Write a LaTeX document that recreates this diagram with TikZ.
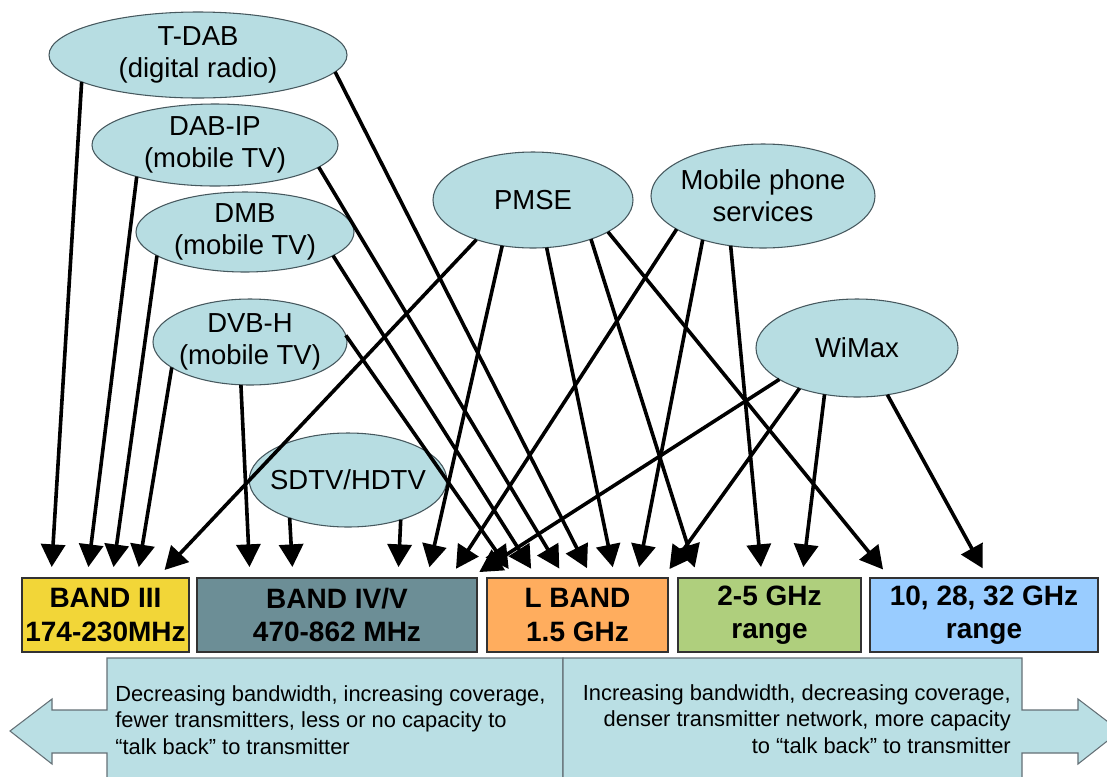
\documentclass[tikz,border=0pt]{standalone}
\usepackage{fontspec}
\setmainfont{Liberation Sans}
\usetikzlibrary{shapes.geometric,arrows.meta,calc}
\definecolor{ellfill}{RGB}{183,221,226}
\definecolor{ellline}{RGB}{70,88,94}
\definecolor{bandline}{RGB}{50,50,50}
\definecolor{bIIIc}{RGB}{242,214,56}
\definecolor{bIVc}{RGB}{108,142,150}
\definecolor{bLc}{RGB}{255,173,94}
\definecolor{bGc}{RGB}{175,207,125}
\definecolor{bHc}{RGB}{153,204,255}
\definecolor{boxfill}{RGB}{186,223,228}
\definecolor{boxline}{RGB}{100,112,118}
\begin{document}
\begin{tikzpicture}[x=0.75pt,y=-0.75pt,
  ell/.style={ellipse,draw=ellline,line width=0.8pt,fill=ellfill,inner sep=-6pt,outer sep=0pt,align=center,font=\fontsize{20.6pt}{24pt}\selectfont},
  band/.style={rectangle,draw=bandline,line width=0.8pt,inner sep=0pt,outer sep=0pt,minimum height=74*0.75pt,align=center,font=\bfseries\fontsize{21pt}{25pt}\selectfont},
  arr/.style={line width=2.7pt,-{Triangle[length=17pt,width=18pt]},shorten >=8.25pt},
  bigbox/.style={fill=boxfill,draw=boxline,line width=0.8pt},
  boxtext/.style={font=\fontsize{16.4pt}{20pt}\selectfont,inner sep=0pt}
]
\useasboundingbox (0,0) rectangle (1107,776);
\clip (0,0) rectangle (1107,776);
% big double arrow
\draw[bigbox] (563,658) -- (107,658) -- (107,710) -- (52,710) -- (52,699) -- (10,731) -- (52,764) -- (52,753) -- (107,753) -- (107,790) -- (563,790) -- cycle;
\draw[bigbox] (563,658) -- (1022,658) -- (1022,710) -- (1078,710) -- (1078,699) -- (1120,731) -- (1078,764) -- (1078,753) -- (1022,753) -- (1022,790) -- (563,790) -- cycle;
\node[boxtext,anchor=west,align=left] (ltxt) at (115,720) {Decreasing bandwidth, increasing coverage,\\fewer transmitters, less or no capacity to\\“talk back” to transmitter};
\node[boxtext,anchor=east,align=right] (rtxt) at (1011,719) {Increasing bandwidth, decreasing coverage,\\denser transmitter network, more capacity\\to “talk back” to transmitter};
% bands
\node[band,fill=bIIIc,minimum width=167*0.75pt] (b3) at (105.5,615) {BAND III\\174-230MHz};
\node[band,fill=bIVc,minimum width=280*0.75pt] (b45) at (337,615) {BAND IV/V\\470-862 MHz};
\node[band,fill=bLc,minimum width=181*0.75pt] (bl) at (577.5,615) {L BAND\\1.5 GHz};
\node[band,fill=bGc,minimum width=183*0.75pt] (b25) at (769.5,615) {2-5 GHz\\range};
\node[band,fill=bHc,minimum width=228*0.75pt] (b10) at (984,615) {10, 28, 32 GHz\\range};
% services
\node[ell,minimum width=298*0.75pt,minimum height=86*0.75pt] (tdab) at (198,55) {T-DAB\\(digital radio)};
\node[ell,minimum width=246*0.75pt,minimum height=82*0.75pt] (dabip) at (215,145) {DAB-IP\\(mobile TV)};
\node[ell,minimum width=218*0.75pt,minimum height=80*0.75pt] (dmb) at (245,232) {DMB\\(mobile TV)};
\node[ell,minimum width=194*0.75pt,minimum height=86*0.75pt] (dvbh) at (250,342) {DVB-H\\(mobile TV)};
\node[ell,minimum width=174*0.75pt,minimum height=94*0.75pt] (sdtv) at (348,480) {SDTV/HDTV};
\node[ell,minimum width=200*0.75pt,minimum height=96*0.75pt] (pmse) at (533,200) {PMSE};
\node[ell,minimum width=224*0.75pt,minimum height=104*0.75pt] (mob) at (763,196) {Mobile phone\\services};
\node[ell,minimum width=202*0.75pt,minimum height=98*0.75pt] (wimax) at (857,348) {WiMax};
% connectors
\draw[arr] (tdab.193) -- (b3.north -| 51,0);
\draw[arr] (tdab.353) -- (bl.north -| 592,0);
\draw[arr] (dabip.202) -- (b3.north -| 87,0);
\draw[arr] (dabip.348) -- (bl.north -| 565,0);
\draw[arr] (dmb.195) -- (b3.north -| 112,0);
\draw[arr] (dmb.345) -- (bl.north -| 537,0);
\draw[arr] (dvbh.198) -- (b3.north -| 137,0);
\draw[arr] (dvbh.258) -- (b45.north -| 250,0);
\draw[arr] (dvbh.4) -- (bl.north -| 515,0);
\draw[arr] (sdtv.213) -- (b45.north -| 293,0);
\draw[arr] (sdtv.323) -- (b45.north -| 398,0);
\draw[arr] (pmse.215.5) -- (b3.north -| 157,0);
\draw[arr] (pmse.236) -- (b45.north -| 427,0);
\draw[arr] (pmse.286) -- (bl.north -| 615,0);
\draw[arr] (pmse.326) -- (b25.north -| 698,0);
\draw[arr] (pmse.337) -- (b10.north -| 890,0);
\draw[arr] (mob.201.8) -- (b45.north -| 450,0);
\draw[arr] (mob.216.3) -- (bl.north -| 637,0);
\draw[arr] (mob.237) -- (b25.north -| 762,0);
\draw[arr] (wimax.202.6) -- (b45.north -| 470,0);
\draw[arr] (wimax.215) -- (bl.north -| 663,0);
\draw[arr] (wimax.235.8) -- (b25.north -| 802,0);
\draw[arr] (wimax.303.4) -- (b10.north -| 988,0);
\end{tikzpicture}
\end{document}
